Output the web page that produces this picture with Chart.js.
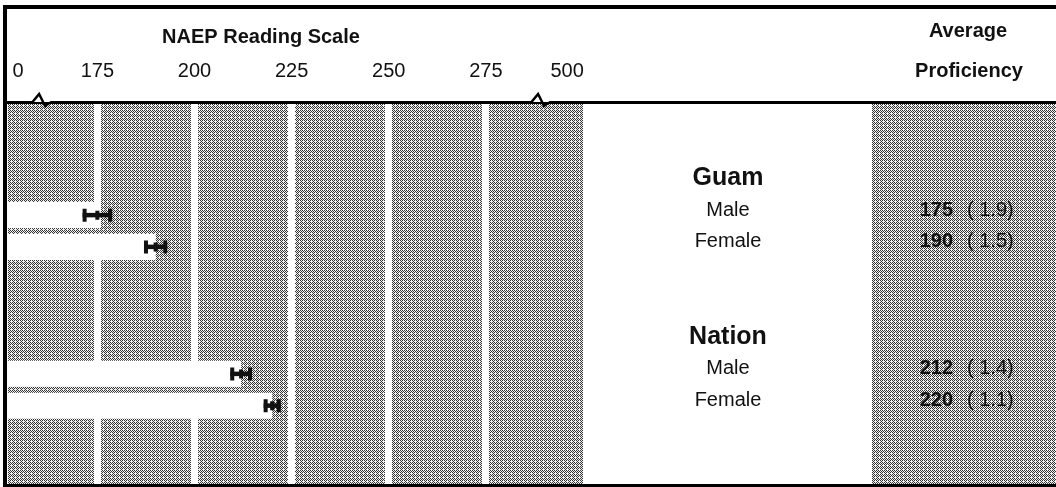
<!DOCTYPE html>
<html>
<head>
<meta charset="utf-8">
<title>NAEP Reading Scale - Guam / Nation</title>
<script src="https://cdn.jsdelivr.net/npm/chart.js@4.4.0/dist/chart.umd.min.js"></script>
<style>
  html, body { margin: 0; padding: 0; background: #fff; }
  #wrap { width: 1056px; height: 487px; position: relative; }
</style>
</head>
<body>
<div id="wrap"><canvas id="chart"></canvas></div>
<script>
// rows of the chart, top to bottom (blank rows are spacing)
const rows = ['', '', 'Guam', 'Male', 'Female', '', '', 'Nation', 'Male', 'Female', '', ''];
const groupRows = ['Guam', 'Nation'];
// average proficiency and standard error per row
const proficiency = [null, null, null, 175, 190, null, null, null, 212, 220, null, null];
const stdError = [null, null, null, 1.9, 1.5, null, null, null, 1.4, 1.1, null, null];

// broken scale: "0" and "500" sit at the break marks
const xMin = 152;
const xMax = 300;
const tickValues = [154.6, 175, 200, 225, 250, 275, 295.9];
const tickLabels = ['0', '175', '200', '225', '250', '275', '500'];
const breakValues = [154.6, 295.9];

const FONT = '"Liberation Sans", Arial, Helvetica, sans-serif';

// stipple pattern used for the shaded areas
function makeStipple(ctx) {
  const c = document.createElement('canvas');
  c.width = 4; c.height = 4;
  const g = c.getContext('2d');
  const dots = [
    [1, 0, 1, 0],
    [0, 1, 0, 0],
    [1, 0, 1, 0],
    [0, 1, 0, 1]
  ];
  for (let y = 0; y < 4; y++) {
    for (let x = 0; x < 4; x++) {
      g.fillStyle = dots[y][x] ? '#363636' : '#f0f0f0';
      g.fillRect(x, y, 1, 1);
    }
  }
  return ctx.createPattern(c, 'repeat');
}

const backdrop = {
  id: 'backdrop',
  beforeDraw(chart) {
    const { ctx, chartArea } = chart;
    ctx.save();
    ctx.fillStyle = '#fff';
    ctx.fillRect(0, 0, chart.width, chart.height);
    ctx.fillStyle = makeStipple(ctx);
    ctx.fillRect(chartArea.left, chartArea.top, chartArea.right - chartArea.left, chartArea.bottom - chartArea.top);
    // right hand "Average Proficiency" column
    ctx.fillRect(872, chartArea.top, chart.width - 872, chartArea.bottom - chartArea.top);
    ctx.restore();
  }
};

const errorBars = {
  id: 'errorBars',
  afterDatasetsDraw(chart) {
    const { ctx, chartArea } = chart;
    const x = chart.scales.x;
    const meta = chart.getDatasetMeta(0);
    ctx.save();
    // shaded gap between the two bars of a group (covers the grid lines)
    ctx.fillStyle = makeStipple(ctx);
    proficiency.forEach((v, i) => {
      if (v === null || proficiency[i + 1] == null) return;
      const a = meta.data[i], b = meta.data[i + 1];
      const top = a.y + a.height / 2;
      const bottom = b.y - b.height / 2;
      const right = Math.max(a.x, b.x);
      ctx.fillRect(chartArea.left, top, right - chartArea.left, bottom - top);
    });
    ctx.strokeStyle = '#111';
    proficiency.forEach((v, i) => {
      if (v === null) return;
      const y = meta.data[i].y;
      const x0 = x.getPixelForValue(v - 2 * stdError[i]);
      const x1 = x.getPixelForValue(v + 2 * stdError[i]);
      ctx.lineWidth = 4.5;
      ctx.beginPath();
      ctx.moveTo(x0, y); ctx.lineTo(x1, y);
      ctx.stroke();
      ctx.lineWidth = 4;
      ctx.beginPath();
      ctx.moveTo(x0 + 2, y - 6.5); ctx.lineTo(x0 + 2, y + 6.5);
      ctx.moveTo(x1 - 2, y - 6.5); ctx.lineTo(x1 - 2, y + 6.5);
      ctx.moveTo((x0 + x1) / 2, y - 4.5); ctx.lineTo((x0 + x1) / 2, y + 4.5);
      ctx.stroke();
    });
    ctx.restore();
  }
};

const textAndFrame = {
  id: 'textAndFrame',
  afterDraw(chart) {
    const { ctx } = chart;
    const yScale = chart.scales.y;
    ctx.save();
    ctx.fillStyle = '#111';
    ctx.textBaseline = 'middle';

    // headers
    ctx.textAlign = 'center';
    ctx.font = 'bold 20px ' + FONT;
    ctx.fillText('NAEP Reading Scale', 261, 37);
    ctx.fillText('Average', 968, 31);
    ctx.fillText('Proficiency', 969, 71);

    // row labels and values
    rows.forEach((label, i) => {
      if (!label) return;
      const y = yScale.getPixelForValue(i) - 5;
      ctx.textAlign = 'center';
      ctx.font = (groupRows.includes(label) ? 'bold 25px ' : '20px ') + FONT;
      ctx.fillText(label, 728, y);
      if (proficiency[i] !== null) {
        ctx.textAlign = 'right';
        ctx.font = 'bold 20px ' + FONT;
        ctx.fillText(String(proficiency[i]), 953, y);
        ctx.textAlign = 'left';
        ctx.font = '20px ' + FONT;
        ctx.fillText('( ' + stdError[i].toFixed(1) + ')', 967, y);
      }
    });

    // frame
    ctx.strokeStyle = '#000';
    ctx.lineWidth = 4;
    ctx.beginPath();
    ctx.moveTo(3, 7); ctx.lineTo(chart.width, 7);
    ctx.moveTo(5, 5); ctx.lineTo(5, chart.height);
    ctx.stroke();
    ctx.lineWidth = 3;
    ctx.beginPath();
    ctx.moveTo(3, 102.5); ctx.lineTo(chart.width, 102.5);
    ctx.moveTo(3, chart.height - 1.5); ctx.lineTo(chart.width, chart.height - 1.5);
    ctx.stroke();

    // scale break marks
    const xs = chart.scales.x;
    breakValues.forEach(v => {
      const bx = xs.getPixelForValue(v) + (v < 200 ? 22 : -28);
      ctx.fillStyle = '#fff';
      ctx.fillRect(bx - 8, 98, 18, 4);
      ctx.lineWidth = 2.5;
      ctx.beginPath();
      ctx.moveTo(bx - 8, 102.5);
      ctx.lineTo(bx - 1, 94);
      ctx.lineTo(bx + 5, 106);
      ctx.lineTo(bx + 10, 102.5);
      ctx.stroke();
    });
    ctx.restore();
  }
};

new Chart(document.getElementById('chart'), {
  type: 'bar',
  data: {
    labels: rows,
    datasets: [{
      data: proficiency,
      base: xMin,
      backgroundColor: '#fff',
      borderWidth: 0,
      barPercentage: 0.82,
      categoryPercentage: 1
    }]
  },
  options: {
    indexAxis: 'y',
    responsive: true,
    maintainAspectRatio: false,
    animation: false,
    layout: { autoPadding: false, padding: { left: 8, right: 473, top: 0, bottom: 2 } },
    plugins: { legend: { display: false }, tooltip: { enabled: false } },
    scales: {
      x: {
        type: 'linear',
        position: 'top',
        min: xMin,
        max: xMax,
        afterBuildTicks: (scale) => { scale.ticks = tickValues.map(v => ({ value: v })); },
        afterFit: (scale) => {
          scale.height = 104;
          scale.paddingLeft = 0;
          scale.paddingRight = 0;
        },
        border: { display: false },
        grid: {
          drawTicks: false,
          lineWidth: 7,
          color: (ctx) => (ctx.tick && breakValues.includes(ctx.tick.value)) ? 'rgba(0,0,0,0)' : '#fff'
        },
        ticks: {
          autoSkip: false,
          maxRotation: 0,
          padding: 21,
          color: '#111',
          font: { family: FONT, size: 20 },
          callback: (value, index) => tickLabels[index]
        }
      },
      y: {
        display: false,
        grid: { display: false }
      }
    }
  },
  plugins: [backdrop, errorBars, textAndFrame]
});
</script>
</body>
</html>
